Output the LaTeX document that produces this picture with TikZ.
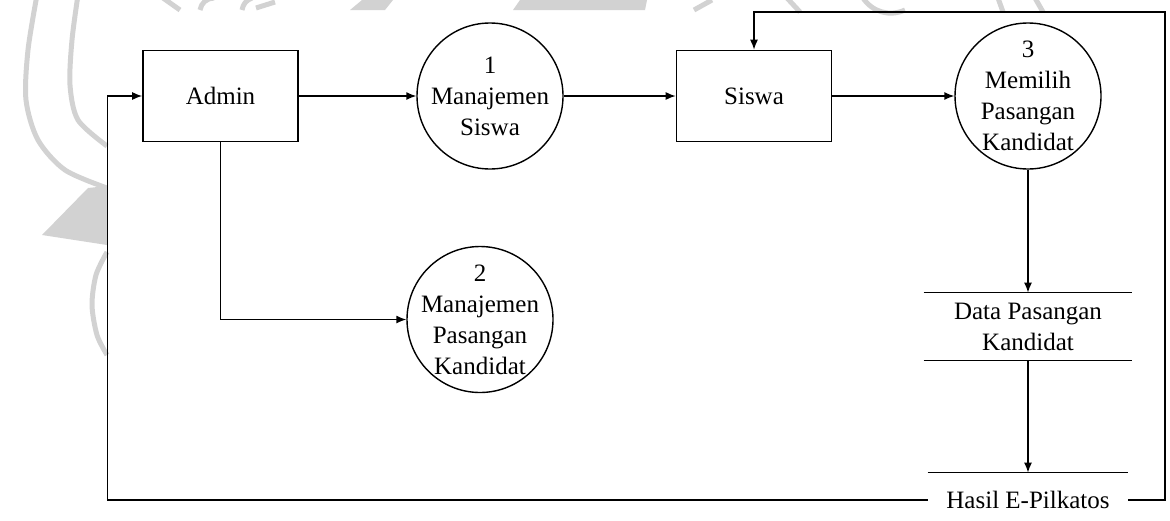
\documentclass[tikz,border=0pt]{standalone}
\usepackage{fontspec}
\setmainfont{Liberation Serif}
\usetikzlibrary{arrows.meta}

\tikzset{
  entitas/.style={draw, minimum width=77.5pt, minimum height=45.5pt, line width=0.8pt},
  proses/.style={draw, circle, minimum size=73pt, inner sep=0pt, line width=0.7pt},
  isi/.style={align=center},
  simpan/.style={inner sep=0pt, align=center},
  garis/.style={line width=0.7pt},
  alur/.style={line width=0.7pt, -{Latex[length=5pt,width=4pt]}},
  tanda/.style={draw=gray!35, line width=2.5pt}
}

\begin{document}
\begin{tikzpicture}[x=0.5pt, y=-0.5pt, font=\fontsize{12.5}{15.5}\selectfont]
      \useasboundingbox (0,0) rectangle (1170,520);

      % watermark
      \begin{scope}[tanda]
        \draw plot[smooth] coordinates {(37,-5) (28,50) (26,100) (38,140) (65,170) (107,188)};
        \draw plot[smooth] coordinates {(78,-5) (72,40) (70,85) (78,120) (107,146)};
        \draw plot[smooth] coordinates {(107,252) (96,275) (92,305) (97,335) (107,355)};
        \fill[gray!35] (88,188) -- (42,235) -- (107,245) -- (107,186) -- cycle;
        \draw (163,-2) -- (180,10);
        \draw (200,10) to[bend left=40] (214,-2);
        \draw (242,10) to[bend left=30] (252,-2);
        \draw (256,8) -- (275,2);
        \fill[gray!35] (350,10) -- (362,0) -- (393,0) -- (385,10) -- cycle;
        \fill[gray!35] (513,10) -- (520,0) -- (647,0) -- (645,10) -- cycle;
        \draw (694,10) -- (712,0);
        \draw (787,-2) -- (800,12);
        \draw (863,-2) to[bend right=40] (905,10);
        \draw (998,-2) -- (1003,12);
        \draw (1035,-2) -- (1043,12);
      \end{scope}

      % entitas dan proses
      \node[entitas] (admin) at (220.5,96) {Admin};
      \node[proses, label={[isi]center:{1\\Manajemen\\Siswa}}] (p1) at (490,96) {};
      \node[entitas] (siswa) at (754,96) {Siswa};
      \node[proses, label={[isi]center:{3\\Memilih\\Pasangan\\Kandidat}}] (p3) at (1028,96) {};
      \node[proses, label={[isi]center:{2\\Manajemen\\Pasangan\\Kandidat}}] (p2) at (480,319.5) {};

      % data store
      \node[simpan, minimum width=104pt, minimum height=33.5pt] (data) at (1028,326.5) {Data Pasangan\\Kandidat};
      \node[simpan, minimum width=100pt, minimum height=27pt] (hasil) at (1028,500) {Hasil E-Pilkatos};
      \foreach \a/\b in {data.north west/data.north east,
                         data.south west/data.south east,
                         hasil.north west/hasil.north east} {
        \draw[garis] (\a) -- (\b);
      }

      % alur data
      \draw[alur] (admin) -- (p1);
      \draw[alur] (p1) -- (siswa);
      \draw[alur] (siswa) -- (p3);
      \draw[alur] (admin.south) |- (p2.west);
      \draw[alur] (p3.south) -- (data.north);
      \draw[alur] (data.south) -- (hasil.north);
      \draw[alur] (hasil.west) -| ([xshift=-17.5pt]admin.west) -- (admin.west);
      \coordinate (atas) at (1165,12);
      \draw[alur] (hasil.east) -| (atas) -| (siswa.north);
\end{tikzpicture}
\end{document}
